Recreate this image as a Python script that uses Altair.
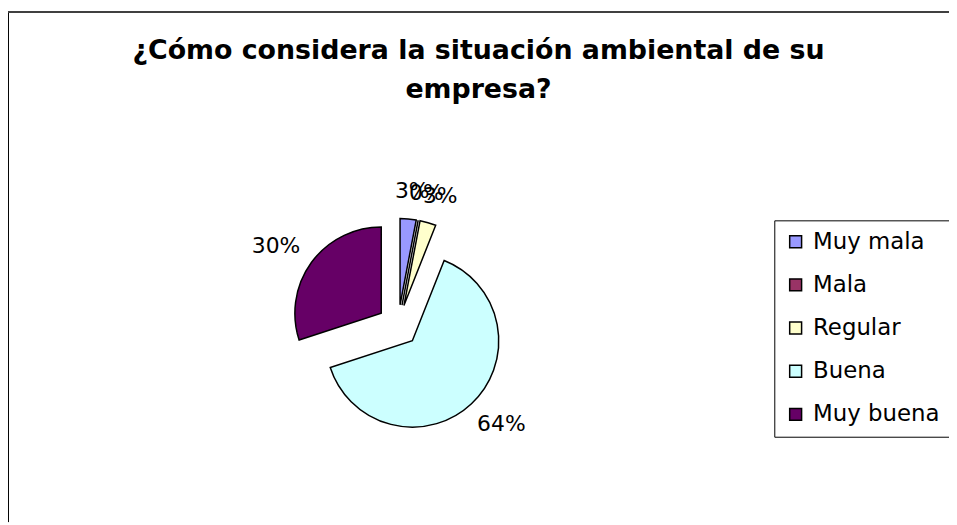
import altair as alt
import pandas as pd

# ---- data ----
categories = ["Muy mala", "Mala", "Regular", "Buena", "Muy buena"]
values = [3, 0, 3, 64, 30]
colors = ["#9999FF", "#993366", "#FFFFCC", "#CCFFFF", "#660066"]
title_lines = ["¿Cómo considera la situación ambiental de su", "empresa?"]

# ---- layout ----
W, H = 948, 516
CX, CY = 393, 318      # pie centre (px)
R = 87                 # pie radius
D = 21                 # explosion distance
LRX, LRY = 152, 136    # label ellipse radii
FONT = "DejaVu Sans"

df = pd.DataFrame({"cat": categories, "val": values, "idx": list(range(len(categories)))})

xs = alt.Scale(domain=[0, W], range=[0, W], nice=False, zero=False)
ys = alt.Scale(domain=[0, H], range=[0, H], nice=False, zero=False)

base = (
    alt.Chart(df)
    .transform_joinaggregate(total="sum(val)")
    .transform_window(cum="sum(val)", sort=[alt.SortField("idx")], frame=[None, 0])
    .transform_calculate(
        start="2*PI*(datum.cum - datum.val)/datum.total",
        end="2*PI*datum.cum/datum.total",
    )
    .transform_calculate(mid="(datum.start + datum.end)/2")
    .transform_calculate(
        px=f"{CX} + {D}*sin(datum.mid)",
        py=f"{CY} - {D}*cos(datum.mid)",
        lx=f"{CX} + {LRX}*sin(datum.mid)",
        ly=f"{CY} - {LRY}*cos(datum.mid)",
        label="datum.val + '%'",
    )
)

arcs = base.mark_arc(radius=R, stroke="black", strokeWidth=1.5).encode(
    x=alt.X("px:Q", scale=xs, axis=None),
    y=alt.Y("py:Q", scale=ys, axis=None),
    theta=alt.Theta("start:Q", scale=None, stack=None),
    theta2="end:Q",
    color=alt.Color(
        "cat:N",
        scale=alt.Scale(domain=categories, range=colors),
        sort=categories,
        legend=alt.Legend(
            title=None,
            orient="none",
            legendX=772,
            legendY=212,
            strokeColor="black",
            fillColor="white",
            padding=10,
            symbolType="square",
            symbolSize=144,
            symbolStrokeColor="black",
            symbolStrokeWidth=1.5,
            labelFontSize=23,
            labelFont=FONT,
            labelColor="black",
            rowPadding=19.5,
            labelOffset=6,
        ),
    ),
)

labels = base.mark_text(fontSize=22, font=FONT, color="black", baseline="middle").encode(
    x=alt.X("lx:Q", scale=xs, axis=None),
    y=alt.Y("ly:Q", scale=ys, axis=None),
    text="label:N",
)

title = alt.Chart(alt.Data(values=[{}])).mark_text(
    text=title_lines,
    fontSize=27,
    fontWeight="bold",
    font=FONT,
    color="black",
    align="center",
    baseline="alphabetic",
    lineHeight=40,
).encode(x=alt.value(474), y=alt.value(49))

left_border = alt.Chart(alt.Data(values=[{}])).mark_rule(color="black", strokeWidth=1).encode(
    x=alt.value(0.5), y=alt.value(2), y2=alt.value(H)
)
top_border = alt.Chart(alt.Data(values=[{}])).mark_rule(color="#404040", strokeWidth=2).encode(
    x=alt.value(0), x2=alt.value(W), y=alt.value(2)
)

chart = (
    alt.layer(arcs, labels, title, left_border, top_border)
    .properties(width=W, height=H, padding=0, autosize=alt.AutoSizeParams(type="none"))
    .configure_view(stroke=None)
)

chart.save("out.html", embed_options={"renderer": "svg", "actions": False})
